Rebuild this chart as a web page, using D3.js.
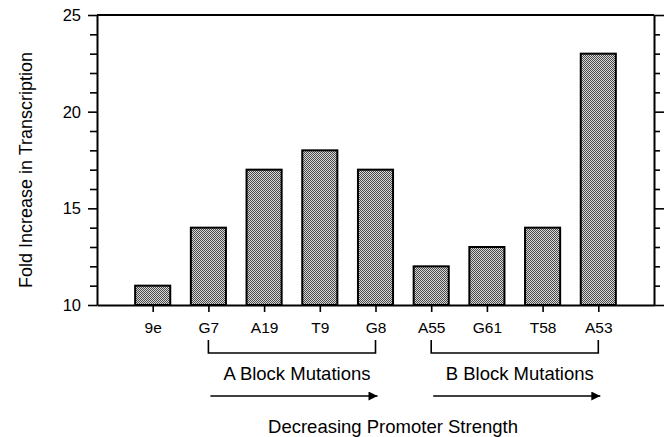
<!DOCTYPE html>
<html>
<head>
<meta charset="utf-8">
<script src="https://cdn.jsdelivr.net/npm/d3@7"></script>
<style>
  html, body { margin: 0; padding: 0; background: #fff; }
  svg { display: block; font-family: "Liberation Sans", Arial, sans-serif; }
</style>
</head>
<body>
<svg id="chart" width="669" height="437"></svg>
<script>
const categories = ["9e", "G7", "A19", "T9", "G8", "A55", "G61", "T58", "A53"];
const values = [11, 14, 17, 18, 17, 12, 13, 14, 23];
const yMajorTicks = [10, 15, 20, 25];
const yTitle = "Fold Increase in Transcription";
const groups = [
  { label: "A Block Mutations", from: "G7", to: "G8" },
  { label: "B Block Mutations", from: "A55", to: "A53" }
];
const xTitle = "Decreasing Promoter Strength";

(function () {
const svg = d3.select("#chart");
const pLeft = 97, pRight = 654, pTop = 15, pBottom = 305;

const x = d3.scalePoint().domain(categories).range([pLeft, pRight]).padding(1);
const y = d3.scaleLinear().domain([10, 25]).range([pBottom, pTop]);
const barW = x.step() * 0.63;

const defs = svg.append("defs");
const pat = defs.append("pattern").attr("id", "dots")
  .attr("patternUnits", "userSpaceOnUse").attr("width", 2).attr("height", 2);
pat.append("rect").attr("width", 2).attr("height", 2).attr("fill", "#d8d8d8");
pat.append("rect").attr("width", 1).attr("height", 1).attr("fill", "#4a4a4a");
pat.append("rect").attr("x", 1).attr("y", 1).attr("width", 1).attr("height", 1).attr("fill", "#4a4a4a");

// bars
svg.append("g").selectAll("rect").data(categories).join("rect")
  .attr("x", d => x(d) - barW / 2)
  .attr("y", (d, i) => y(values[i]))
  .attr("width", barW)
  .attr("height", (d, i) => pBottom - y(values[i]))
  .attr("fill", "url(#dots)")
  .attr("stroke", "#000")
  .attr("stroke-width", 2);

// left axis
const yLeft = svg.append("g").attr("transform", `translate(${pLeft},0)`)
  .call(d3.axisLeft(y).tickValues(d3.range(10, 26, 1)).tickSize(7).tickSizeOuter(0).tickFormat(""));
yLeft.selectAll(".tick line").filter(d => d % 5 === 0).attr("x2", -9);
yLeft.selectAll(".tick line").attr("stroke-width", 1.6);
yLeft.select(".domain").attr("stroke-width", 2);
svg.append("g").selectAll("text").data(yMajorTicks).join("text")
  .attr("x", 81).attr("y", d => y(d)).attr("dy", "0.36em")
  .attr("text-anchor", "end").attr("font-size", 16.5).attr("fill", "#000")
  .text(d => d);

// right axis
const yRight = svg.append("g").attr("transform", `translate(${pRight},0)`)
  .call(d3.axisRight(y).tickValues(d3.range(10, 26, 1)).tickSize(6).tickSizeOuter(0).tickFormat(""));
yRight.selectAll(".tick line").filter(d => d % 5 === 0).attr("x2", 10);
yRight.selectAll(".tick line").attr("stroke-width", 1.6);
yRight.select(".domain").attr("stroke-width", 2);

// top and bottom lines
svg.append("line").attr("x1", pLeft).attr("x2", pRight).attr("y1", pTop).attr("y2", pTop)
  .attr("stroke", "#000").attr("stroke-width", 2);
const xAxis = svg.append("g").attr("transform", `translate(0,${pBottom})`)
  .call(d3.axisBottom(x).tickSize(7).tickSizeOuter(0).tickPadding(10));
xAxis.select(".domain").attr("stroke-width", 2);
xAxis.selectAll(".tick line").attr("stroke-width", 1.6);
xAxis.selectAll(".tick text").attr("font-size", 15.5).attr("fill", "#000")
  .attr("font-family", "Liberation Sans, Arial, sans-serif");

// y title
svg.append("text")
  .attr("transform", `translate(32,${(pTop + pBottom) / 2 + 10}) rotate(-90)`)
  .attr("text-anchor", "middle").attr("font-size", 18).attr("fill", "#000")
  .text(yTitle);

// brackets, labels, arrows
defs.append("marker").attr("id", "arrow").attr("viewBox", "0 0 10 10")
  .attr("refX", 10).attr("refY", 5).attr("markerWidth", 12).attr("markerHeight", 9)
  .attr("markerUnits", "userSpaceOnUse").attr("orient", "auto")
  .append("path").attr("d", "M0,0 L10,5 L0,10 Z").attr("fill", "#000");

const g = svg.append("g");
groups.forEach(gr => {
  const x0 = x(gr.from), x1 = x(gr.to);
  g.append("path")
    .attr("d", `M${x0},340 V353 H${x1} V340`)
    .attr("fill", "none").attr("stroke", "#000").attr("stroke-width", 1.6);
  g.append("text").attr("x", (x0 + x1) / 2 + 5).attr("y", 380)
    .attr("text-anchor", "middle").attr("font-size", 18.5).attr("fill", "#000")
    .text(gr.label);
  g.append("line").attr("x1", x0 + 2).attr("x2", x1 + 2).attr("y1", 396).attr("y2", 396)
    .attr("stroke", "#000").attr("stroke-width", 1.6).attr("marker-end", "url(#arrow)");
});

svg.append("text").attr("x", 393).attr("y", 433)
  .attr("text-anchor", "middle").attr("font-size", 18.5).attr("fill", "#000")
  .text(xTitle);
})();
</script>
</body>
</html>
